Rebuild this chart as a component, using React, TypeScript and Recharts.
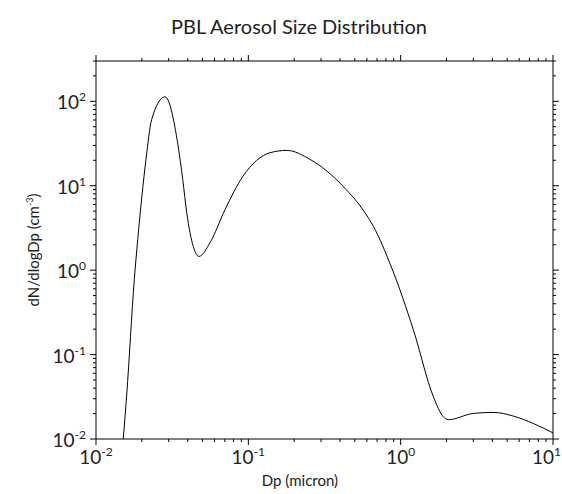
import { LineChart, Line, XAxis, YAxis } from "recharts";

// particle diameter (micron) and number concentration dN/dlogDp (cm^-3)
const diameters = [
  0.0151, 0.0159, 0.01784, 0.01879, 0.02129, 0.0232, 0.02838, 0.03455, 0.0371,
  0.0394, 0.0435, 0.0474, 0.056, 0.0703, 0.0923, 0.1388, 0.1787, 0.2541, 0.4184,
  0.5837, 0.662, 0.874, 1.212, 1.64, 1.908, 2.057, 3.002, 4.062, 5.5, 7.43, 10,
];
const concentrations = [
  0.01, 0.0331, 0.769, 2.3, 20.5, 61, 113, 30, 11.85, 4.81, 1.91, 1.455, 2.11,
  5.21, 12.97, 24.6, 26.2, 20.5, 9.86, 4.77, 3.3, 1.06, 0.196, 0.0316, 0.0183,
  0.01694, 0.0201, 0.02065, 0.01866, 0.01527, 0.0118,
];

const decadesX = [0.01, 0.1, 1, 10];
const decadesY = [0.01, 0.1, 1, 10, 100];
const exponents: Record<number, string> = {
  0.01: "-2",
  0.1: "-1",
  1: "0",
  10: "1",
  100: "2",
};

const data = diameters.map((dp, i) => ({ dp, n: concentrations[i] }));

// log minor ticks 1..9 within each decade, clipped to the domain
function logTicks(lo: number, hi: number) {
  const out: number[] = [];
  for (let e = -3; e <= 3; e++) {
    for (let m = 1; m <= 9; m++) {
      const v = +(m * Math.pow(10, e)).toPrecision(3);
      if (v >= lo - 1e-9 && v <= hi + 1e-9) out.push(v);
    }
  }
  return out;
}

const xTicks = logTicks(0.01, 10);
const yTicks = logTicks(0.01, 300);

const FONT = "Lato, 'Open Sans', sans-serif";
const TEXT = "#222";

const isMajor = (v: number, majors: number[]) =>
  majors.some((m) => Math.abs(m - v) / m < 1e-6);

function Power({ x, y, v, anchor }: { x: number; y: number; v: number; anchor: "middle" | "end" }) {
  return (
    <text x={x} y={y} textAnchor={anchor} fontFamily={FONT} fontSize={19} fill={TEXT}>
      <tspan>10</tspan>
      <tspan dy={-8} fontSize={12}>
        {exponents[v]}
      </tspan>
    </text>
  );
}

function makeTick(side: "bottom" | "top" | "left" | "right") {
  return function Tick(props: any) {
    const { x, y, payload } = props;
    const v = payload.value as number;
    const major = isMajor(v, side === "bottom" || side === "top" ? decadesX : decadesY);
    const len = major ? 6 : 3;
    if (side === "bottom") {
      // the last decade label sits flush against the right edge
      const last = v === decadesX[decadesX.length - 1];
      return (
        <g>
          <line x1={x} x2={x} y1={y} y2={y + len} stroke="#000" />
          {major && (
            <Power x={last ? x + 8 : x} y={y + 25} v={v} anchor={last ? "end" : "middle"} />
          )}
        </g>
      );
    }
    if (side === "top") {
      return <line x1={x} x2={x} y1={y} y2={y - len} stroke="#000" />;
    }
    if (side === "left") {
      return (
        <g>
          <line x1={x} x2={x - len} y1={y} y2={y} stroke="#000" />
          {major && <Power x={x - 10} y={y + 8} v={v} anchor="end" />}
        </g>
      );
    }
    return <line x1={x} x2={x + len} y1={y} y2={y} stroke="#000" />;
  };
}

export default function App() {
  return (
    <div style={{ position: "absolute", left: 0, top: 0, background: "#fff" }}>
      <LineChart
        width={562}
        height={494}
        data={data}
        margin={{ top: 40, right: 0, bottom: 0, left: 40 }}
      >
        <text x={299} y={34} textAnchor="middle" fontFamily={FONT} fontSize={20} fill={TEXT}>
          PBL Aerosol Size Distribution
        </text>
        <text x={300} y={486} textAnchor="middle" fontFamily={FONT} fontSize={15} fill={TEXT}>
          Dp (micron)
        </text>
        <text
          x={0}
          y={0}
          transform="translate(39,250) rotate(-90)"
          textAnchor="middle"
          fontFamily={FONT}
          fontSize={15}
          fill={TEXT}
        >
          dN/dlogDp (cm
          <tspan dy={-6} fontSize={9}>
            -3
          </tspan>
          <tspan dy={6}>)</tspan>
        </text>
        <XAxis
          xAxisId="bottom"
          dataKey="dp"
          type="number"
          scale="log"
          domain={[0.01, 10]}
          allowDataOverflow
          ticks={xTicks}
          interval={0}
          tickSize={0}
          tickMargin={0}
          tickLine={false}
          tick={makeTick("bottom")}
          axisLine={{ stroke: "#000" }}
          height={55}
          orientation="bottom"
        />
        <XAxis
          xAxisId="top"
          dataKey="dp"
          type="number"
          scale="log"
          domain={[0.01, 10]}
          allowDataOverflow
          ticks={xTicks}
          interval={0}
          tickSize={0}
          tickMargin={0}
          tickLine={false}
          tick={makeTick("top")}
          axisLine={{ stroke: "#000" }}
          height={21}
          orientation="top"
        />
        <YAxis
          yAxisId="left"
          type="number"
          scale="log"
          domain={[0.01, 300]}
          allowDataOverflow
          ticks={yTicks}
          interval={0}
          tickSize={0}
          tickMargin={0}
          tickLine={false}
          tick={makeTick("left")}
          axisLine={{ stroke: "#000" }}
          width={56}
          orientation="left"
        />
        <YAxis
          yAxisId="right"
          type="number"
          scale="log"
          domain={[0.01, 300]}
          allowDataOverflow
          ticks={yTicks}
          interval={0}
          tickSize={0}
          tickMargin={0}
          tickLine={false}
          tick={makeTick("right")}
          axisLine={{ stroke: "#000" }}
          width={9}
          orientation="right"
        />
        <Line
          xAxisId="bottom"
          yAxisId="left"
          dataKey="n"
          type="monotone"
          stroke="#000"
          strokeWidth={1}
          dot={false}
          isAnimationActive={false}
        />
      </LineChart>
    </div>
  );
}
